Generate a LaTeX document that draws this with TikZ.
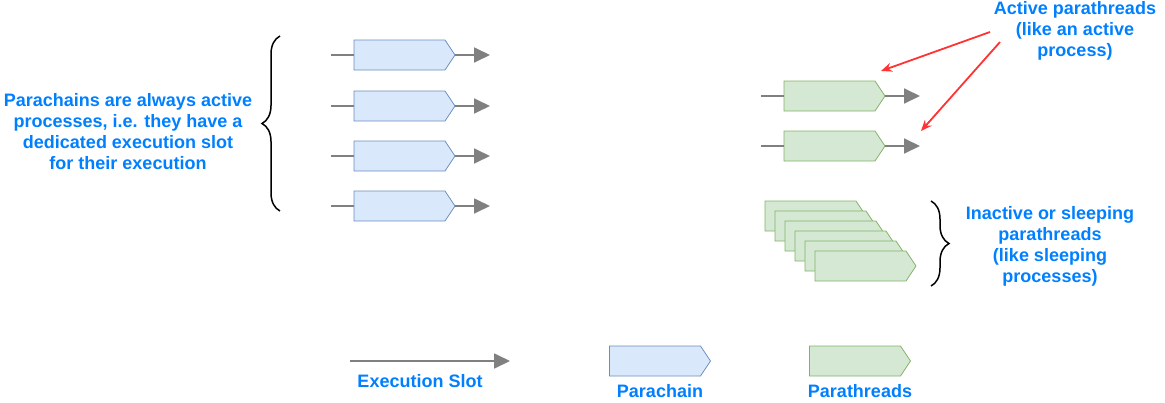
\documentclass[tikz,border=0pt]{standalone}
\usepackage{fontspec}
\setmainfont{Liberation Sans}
\usetikzlibrary{shapes.symbols,arrows.meta,positioning,decorations.pathreplacing}

\definecolor{chainfill}{HTML}{DAE8FC}
\definecolor{chaindraw}{HTML}{6C8EBF}
\definecolor{threadfill}{HTML}{D5E8D4}
\definecolor{threaddraw}{HTML}{82B366}
\definecolor{slotgray}{HTML}{808080}
\definecolor{hintred}{HTML}{FF3333}
\definecolor{noteblue}{HTML}{007FFF}

\begin{document}
\begin{tikzpicture}[
        x=1pt, y=-1pt,
        chain/.style={signal, signal to=east, signal pointer angle=112.6,
            draw=chaindraw, fill=chainfill, line width=0.8pt, outer sep=0pt,
            minimum width=101pt, minimum height=30pt, inner sep=0pt},
        thread/.style={chain, draw=threaddraw, fill=threadfill},
        slot/.style={draw=slotgray, line width=1.8pt},
        slotarr/.style={slot, -{Triangle[length=16pt,width=15pt]}},
        hint/.style={-{Stealth[length=11pt,width=9pt]}, draw=hintred, line width=1.8pt},
        note/.style={text=noteblue, font=\fontsize{18}{21}\selectfont\bfseries,
            align=center, inner sep=0pt},
        curly/.style={decorate, decoration={brace, amplitude=18pt}, line width=1.5pt}
    ]
    \useasboundingbox (0,0) rectangle (1165,402);

    % Parachains
    \node[chain] (pc1) at (399.5,55) {};
    \node[chain, below=21pt of pc1] (pc2) {};
    \node[chain, below=20pt of pc2] (pc3) {};
    \node[chain, below=20pt of pc3] (pc4) {};
    \coordinate[left=23pt of pc1] (pcin1);
    \coordinate[left=23pt of pc2] (pcin2);
    \coordinate[left=23pt of pc3] (pcin3);
    \coordinate[left=23pt of pc4] (pcin4);
    \coordinate[right=35pt of pc1] (pcout1);
    \coordinate[right=35pt of pc2] (pcout2);
    \coordinate[right=35pt of pc3] (pcout3);
    \coordinate[right=35pt of pc4] (pcout4);
    \draw[slot] (pcin1) -- (pc1);
    \draw[slot] (pcin2) -- (pc2);
    \draw[slot] (pcin3) -- (pc3);
    \draw[slot] (pcin4) -- (pc4);
    \draw[slotarr] (pc1) -- (pcout1);
    \draw[slotarr] (pc2) -- (pcout2);
    \draw[slotarr] (pc3) -- (pcout3);
    \draw[slotarr] (pc4) -- (pcout4);

    \draw[curly] (280,211) -- (280,36) coordinate (pcbrace);
    \node[note] (pcnote) at (128,131.5) {Parachains are always active\\processes, i.e. they have a\\dedicated execution slot\\for their execution};

    % Active parathreads
    \node[thread] (pt1) at (829.5,96) {};
    \node[thread, below=20pt of pt1] (pt2) {};
    \coordinate[left=23pt of pt1] (ptin1);
    \coordinate[left=23pt of pt2] (ptin2);
    \coordinate[right=35pt of pt1] (ptout1);
    \coordinate[right=35pt of pt2] (ptout2);
    \draw[slot] (ptin1) -- (pt1);
    \draw[slot] (ptin2) -- (pt2);
    \draw[slotarr] (pt1) -- (ptout1);
    \draw[slotarr] (pt2) -- (ptout2);

    \node[note] (activenote) at (1075,31) {Active parathreads\\(like an active\\process)};
    \coordinate (hintsrc1) at (990,32);
    \coordinate (hintsrc2) at (1000,42);
    \coordinate (hintdst1) at (881,71);
    \coordinate (hintdst2) at (921,131);
    \draw[hint] (hintsrc1) -- (hintdst1);
    \draw[hint] (hintsrc2) -- (hintdst2);

    % Sleeping parathreads
    \node[thread] (sl1) at (810.5,216) {};
    \node[thread] (sl2) at (820.5,226) {};
    \node[thread] (sl3) at (830.5,236) {};
    \node[thread] (sl4) at (840.5,246) {};
    \node[thread] (sl5) at (850.5,256) {};
    \node[thread] (sl6) at (860.5,266) {};

    \draw[curly] (931,201) -- (931,286);
    \node[note] (sleepnote) at (1050,246.5) {Inactive or sleeping\\parathreads\\(like sleeping\\processes)};

    % Legend
    \coordinate (legin) at (350,361);
    \coordinate (legout) at (510,361);
    \draw[slotarr] (legin) -- (legout);
    \node[note] (leglabel) at (420,381) {Execution Slot};
    \node[chain] (legchain) at (655,361) {};
    \node[note, below=8pt of legchain, xshift=5pt] {Parachain};
    \node[thread] (legthread) at (855,361) {};
    \node[note, below=8pt of legthread, xshift=5pt] {Parathreads};
\end{tikzpicture}
\end{document}
